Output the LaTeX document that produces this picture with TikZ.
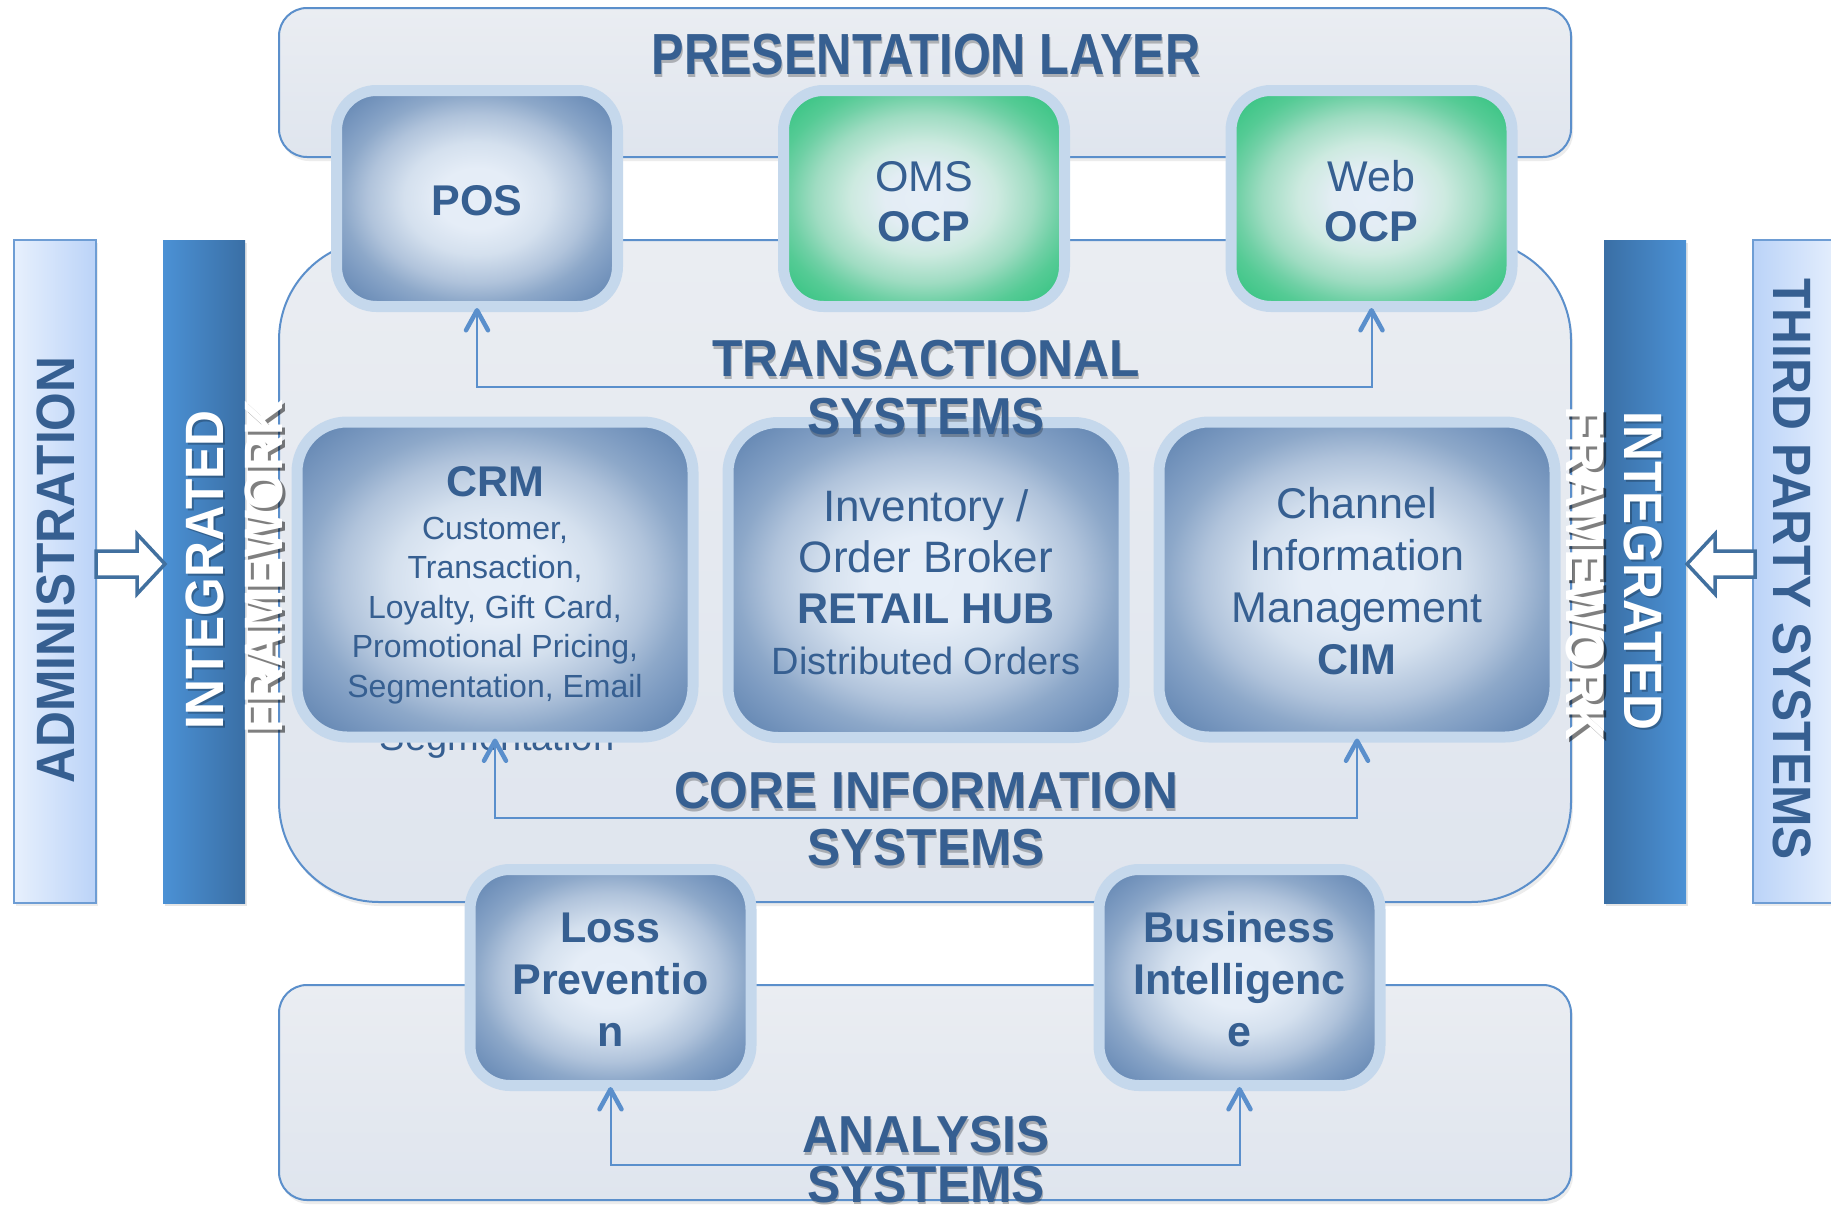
\documentclass[tikz,border=0pt]{standalone}
\usepackage{fontspec}
\setmainfont{Liberation Sans}
\newfontfamily\ttlfont{Liberation Sans}[FakeStretch=0.92]
\newfontfamily\hdfont{Liberation Sans}[FakeStretch=0.955]
\newfontfamily\presfont{Liberation Sans}[FakeStretch=0.84]
\usetikzlibrary{arrows.meta,shadows}

\definecolor{txtblue}{HTML}{365F91}
\definecolor{panelline}{HTML}{5B8FCB}
\definecolor{panelA}{HTML}{EAEDF2}
\definecolor{panelB}{HTML}{DFE5EE}
\definecolor{halo}{HTML}{C5D8EC}
\definecolor{connc}{HTML}{5A8FCC}
\definecolor{barA}{HTML}{4B91D5}
\definecolor{barB}{HTML}{3A6FA5}
\definecolor{admA}{HTML}{E7F0FD}
\definecolor{admB}{HTML}{BBD3F8}
\definecolor{admline}{HTML}{6E9DD4}
\definecolor{arrowline}{HTML}{41709F}

% radial glows for the system boxes (light centre, saturated rim)
\pgfdeclareradialshading{blueglow}{\pgfpoint{0bp}{0bp}}{%
  color(0bp)=(rgb,255:red,230;green,238;blue,248);
  color(7bp)=(rgb,255:red,229;green,237;blue,247);
  color(13bp)=(rgb,255:red,212;green,224;blue,238);
  color(19.5bp)=(rgb,255:red,176;green,195;blue,219);
  color(24bp)=(rgb,255:red,141;green,168;blue,201);
  color(27bp)=(rgb,255:red,126;green,156;blue,194);
  color(34bp)=(rgb,255:red,95;green,131;blue,176);
  color(50bp)=(rgb,255:red,90;green,126;blue,172)}
\pgfdeclareradialshading{greenglow}{\pgfpoint{0bp}{0bp}}{%
  color(0bp)=(rgb,255:red,230;green,238;blue,248);
  color(7bp)=(rgb,255:red,227;green,237;blue,244);
  color(13bp)=(rgb,255:red,205;green,234;blue,224);
  color(19.5bp)=(rgb,255:red,159;green,220;blue,194);
  color(24bp)=(rgb,255:red,111;green,208;blue,165);
  color(27bp)=(rgb,255:red,85;green,203;blue,149);
  color(34bp)=(rgb,255:red,48;green,194;blue,126);
  color(50bp)=(rgb,255:red,45;green,193;blue,124)}

% a text node drawn over a faint offset copy of itself
\newcommand{\shadowlabel}[6]{%
  \node[shift={#4}, #1, text=black, text opacity=#6] at #3 {#5};
  \node[#1] (#2) at #3 {#5};}

\begin{document}
\begin{tikzpicture}[x=1pt, y=-1pt,
  panel/.style={draw=panelline, line width=2pt, top color=panelA, bottom color=panelB,
    inner sep=0pt, drop shadow={shadow xshift=2pt, shadow yshift=-4pt, opacity=.15}},
  intbar/.style={inner sep=0pt, minimum width=82pt, minimum height=663pt,
    drop shadow={shadow xshift=2pt, shadow yshift=-3pt, opacity=.2}},
  sidebar/.style={draw=admline, line width=2pt, inner sep=0pt, minimum width=82pt, minimum height=663pt,
    drop shadow={shadow xshift=2pt, shadow yshift=-3pt, opacity=.15}},
  glowbox/.style={draw=halo, line width=11pt, shade, inner sep=0pt},
  bluebox/.style={glowbox, shading=blueglow},
  greenbox/.style={glowbox, shading=greenglow},
  smallbox/.style={minimum width=281pt, minimum height=216pt, rounded corners=40pt},
  bigbox/.style={minimum width=396pt, minimum height=315pt, rounded corners=50pt},
  boxtxt/.style={text=txtblue, align=center, inner sep=0pt},
  ttl/.style={font=\hdfont\bfseries\fontsize{52}{52}\selectfont, text=txtblue, anchor=base, inner sep=0pt},
  sidetxt/.style={font=\ttlfont\bfseries\fontsize{54}{54}\selectfont, inner sep=0pt},
  hollow/.style={draw=arrowline, line width=3.5pt, fill=white, line join=miter},
  barb/.tip={Straight Barb[length=20pt, width=22pt, line width=4.5pt, round]},
  conn/.style={draw=connc, line width=2pt, barb-barb, shorten <=-4pt, shorten >=-4pt}
]
\useasboundingbox (0,0) rectangle (1831,1213);
\clip (0,0) rectangle (1831,1213);
\fill[white] (0,0) rectangle (1831,1213);

% side bars
\node[sidebar, left color=admA, right color=admB] (admin) at (55,571.5) {};
\node[intbar, left color=barA, right color=barB] (intl) at (204,571.5) {};
\node[intbar, left color=barB, right color=barA] (intr) at (1645,571.5) {};
\node[sidebar, left color=admB, right color=admA, minimum width=88pt] (third) at (1797,571.5) {};

% hollow arrows into the framework bars
\draw[hollow] (96,551) -- (137,551) -- (137,534) -- (165,564) -- (137,594) -- (137,577) -- (96,577) -- cycle;
\draw[hollow] (1755,551) -- (1715,551) -- (1715,534) -- (1687,564) -- (1715,594) -- (1715,577) -- (1755,577) -- cycle;

% layer panels
\node[panel, rounded corners=28pt, minimum width=1292pt, minimum height=149pt] (pres) at (925,82.5) {};
\node[panel, rounded corners=100pt, minimum width=1292pt, minimum height=662pt] (core) at (925,571) {};
\node[panel, rounded corners=28pt, minimum width=1292pt, minimum height=215pt] (anal) at (925,1092.5) {};

% framework captions on the bars
\node[sidetxt, text=txtblue, rotate=90] (admtxt) at (56,570) {ADMINISTRATION};
\node[sidetxt, text=txtblue, rotate=-90] (thirdtxt) at (1792,569) {THIRD PARTY SYSTEMS};
\shadowlabel{sidetxt, text=white, rotate=90}{intltxt}{(205,570)}{(2,2)}{INTEGRATED}{.25}
\shadowlabel{sidetxt, text=white, rotate=90}{fwltxt}{(264,567)}{(3,3)}{FRAMEWORK}{.5}
\shadowlabel{sidetxt, text=white, rotate=-90}{intrtxt}{(1643,571)}{(2,2)}{INTEGRATED}{.25}
\shadowlabel{sidetxt, text=white, rotate=-90}{fwrtxt}{(1585,573)}{(3,3)}{FRAMEWORK}{.5}

% overflow line left behind the CRM box
\node[font=\fontsize{38}{38}\selectfont, text=txtblue, anchor=base, inner sep=0pt] (ghost) at (497,750) {Segmentation};

% presentation systems
\node[bluebox, smallbox] (pos) at (477,198.5) {};
\node[greenbox, smallbox] (oms) at (924,198.5) {};
\node[greenbox, smallbox] (web) at (1371.5,198.5) {};
\node[boxtxt, font=\fontsize{43}{50}\selectfont\bfseries] (postxt) at ([yshift=-2pt]pos.center) {POS};
\node[boxtxt, font=\fontsize{43}{50}\selectfont] (omstxt) at ([yshift=-3pt]oms.center) {OMS\\\textbf{OCP}};
\node[boxtxt, font=\fontsize{43}{50}\selectfont] (webtxt) at ([yshift=-3pt]web.center) {Web\\\textbf{OCP}};

% core systems
\node[bluebox, bigbox] (crm) at (495,579.5) {};
\node[bluebox, bigbox] (inv) at (926,580) {};
\node[bluebox, bigbox] (cim) at (1357,579.5) {};
\node[boxtxt, font=\fontsize{32}{39.5}\selectfont] (crmtxt) at ([yshift=-6pt]crm.center)
  {{\fontsize{43}{39}\selectfont\bfseries CRM}\\[3pt]Customer,\\Transaction,\\Loyalty, Gift Card,\\Promotional Pricing,\\Segmentation, Email};
\node[boxtxt, font=\fontsize{44}{51}\selectfont] (invtxt) at ([yshift=-2pt]inv.center)
  {Inventory /\\Order Broker\\{\fontsize{43}{51}\selectfont\bfseries RETAIL HUB}\\{\fontsize{38}{51}\selectfont Distributed Orders}};
\node[boxtxt, font=\fontsize{43}{52}\selectfont] (cimtxt) at ([yshift=-2pt]cim.center)
  {Channel\\Information\\Management\\\textbf{CIM}};

% analysis systems
\node[bluebox, smallbox] (lp) at (610.5,977.5) {};
\node[bluebox, smallbox] (bi) at (1239.5,977.5) {};
\node[boxtxt, font=\fontsize{43}{52}\selectfont\bfseries] (lptxt) at ([yshift=-2pt]lp.center) {Loss\\Preventio\\n};
\node[boxtxt, font=\fontsize{43}{52}\selectfont\bfseries] (bitxt) at ([yshift=-2pt]bi.center) {Business\\Intelligenc\\e};

% connectors
\coordinate (tbus) at (925,387);
\coordinate (cbus) at (925,818);
\coordinate (abus) at (925,1165);
\draw[conn] (pos.south) |- (tbus) -| (web.south);
\draw[conn] (crm.south) |- (cbus) -| (cim.south);
\draw[conn] (lp.south) |- (abus) -| (bi.south);

% layer titles
\shadowlabel{ttl, font=\presfont\bfseries\fontsize{58}{58}\selectfont}{prestitle}{(926,74)}{(1,3)}{PRESENTATION LAYER}{.25}
\shadowlabel{ttl}{trtitle}{(926,376)}{(1,3)}{TRANSACTIONAL}{.25}
\shadowlabel{ttl}{trtitleb}{(926,434)}{(1,3)}{SYSTEMS}{.25}
\shadowlabel{ttl}{cotitle}{(926,808)}{(1,3)}{CORE INFORMATION}{.25}
\shadowlabel{ttl}{cotitleb}{(926,865)}{(1,3)}{SYSTEMS}{.25}
\shadowlabel{ttl}{antitle}{(926,1152)}{(1,3)}{ANALYSIS}{.25}
\shadowlabel{ttl}{antitleb}{(926,1202)}{(1,2)}{SYSTEMS}{.25}
\end{tikzpicture}
\end{document}
